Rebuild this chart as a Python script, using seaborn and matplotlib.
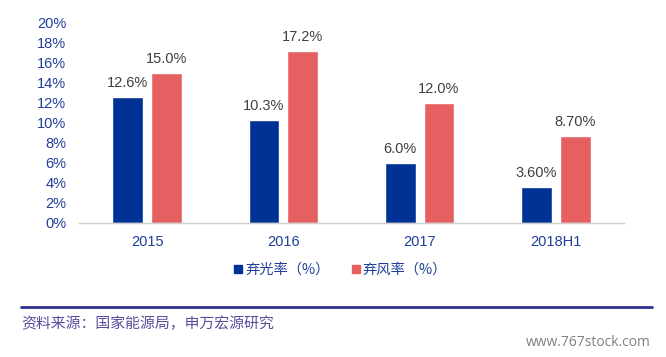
import matplotlib
matplotlib.use("Agg")
from matplotlib import pyplot as plt
from matplotlib.lines import Line2D
from matplotlib.ticker import PercentFormatter
import seaborn as sns
import pandas as pd

# chart data
years = ["2015", "2016", "2017", "2018H1"]
solar_rate = [12.6, 10.3, 6.0, 3.60]
wind_rate = [15.0, 17.2, 12.0, 8.70]
solar_labels = ["12.6%", "10.3%", "6.0%", "3.60%"]
wind_labels = ["15.0%", "17.2%", "12.0%", "8.70%"]
series_names = ["弃光率（%）", "弃风率（%）"]
y_ticks = [0, 2, 4, 6, 8, 10, 12, 14, 16, 18, 20]
source_text = "资料来源：国家能源局，申万宏源研究"
watermark = "www.767stock.com"

blue = "#003296"
red = "#e66061"
tick_color = "#1f3f99"

df = pd.DataFrame({
    "year": years * 2,
    "rate": solar_rate + wind_rate,
    "series": [series_names[0]] * 4 + [series_names[1]] * 4,
})

sns.set_style("white")
plt.rcParams["font.family"] = ["Liberation Sans", "Noto Sans CJK SC", "DejaVu Sans"]

fig = plt.figure(figsize=(6.66, 3.57), dpi=100)
ax = fig.add_axes([79 / 666, 1 - 223 / 357, 545 / 666, 200 / 357])

sns.barplot(data=df, x="year", y="rate", hue="series", order=years,
            hue_order=series_names, palette=[blue, red], width=0.57,
            gap=0.21, ax=ax, legend=False, saturation=1)

for cont, labs in zip(ax.containers, [solar_labels, wind_labels]):
    ax.bar_label(cont, labels=labs, padding=5, fontsize=10.5, color="#404040")

ax.set_ylim(0, 20)
ax.set_xlim(-0.5, 3.5)
ax.set_yticks(y_ticks)
ax.yaxis.set_major_formatter(PercentFormatter(decimals=0))
ax.set_xlabel("")
ax.set_ylabel("")
for side in ["left", "right", "top"]:
    ax.spines[side].set_visible(False)
ax.spines["bottom"].set_color("#d0d0d0")
ax.spines["bottom"].set_linewidth(1.0)
ax.tick_params(axis="both", length=0, labelsize=10.5, colors=tick_color)
ax.tick_params(axis="y", pad=9)
ax.tick_params(axis="x", pad=9)

handles = [Line2D([], [], marker="s", linestyle="", color=c, markersize=6)
           for c in [blue, red]]
leg = fig.legend(handles, series_names, loc="center", bbox_to_anchor=(340 / 666, 1 - 270 / 357),
                 ncol=2, frameon=False, handletextpad=0.1,
                 columnspacing=1.4, handlelength=0.8,
                 prop={"family": ["Noto Sans CJK SC"], "size": 10.3})
for t in leg.get_texts():
    t.set_color(tick_color)

fig.add_artist(Line2D([21 / 666, 652 / 666], [1 - 307 / 357] * 2,
                      color="#2e3192", linewidth=2))
fig.text(21 / 666, 1 - 324 / 357, source_text, fontsize=10.7, color="#5b4b9b",
         va="center", ha="left", family=["Noto Sans CJK SC"])
fig.text(651 / 666, 1 - 343 / 357, watermark, fontsize=10, color="#808080",
         va="center", ha="right", family=["Open Sans"])

fig.savefig("out.png", dpi=100)
